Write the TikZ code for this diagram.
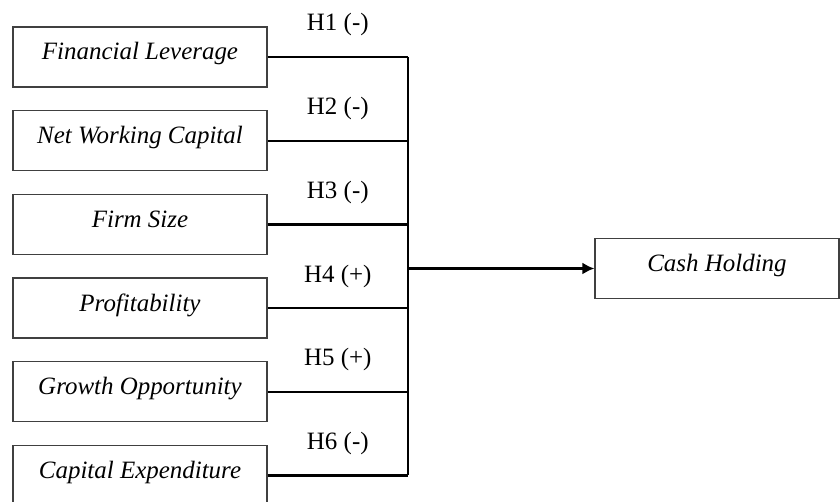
\documentclass[tikz,border=0pt]{standalone}
\usepackage{fontspec}
\setmainfont{Liberation Serif}
\usetikzlibrary{arrows.meta,positioning,calc}

\begin{document}
\begin{tikzpicture}[x=0.02cm,y=0.02cm,>={Latex[length=0.24cm,width=0.24cm]},font=\fontsize{14.2}{17}\selectfont]
\tikzstyle{var}=[draw=black!75,line width=0.7pt,inner sep=0pt,minimum width=5.08cm,text height=0.66cm,text depth=0.54cm,font=\fontsize{14.2}{17}\selectfont\itshape]
\tikzstyle{link}=[line width=1.3pt]
\tikzstyle{hyp}=[anchor=base,inner sep=0pt,yshift=0.52cm]
\path[use as bounding box,clip] (0,0) rectangle (840,-502);
\coordinate (bus) at (408,0);
\foreach \i/\name/\sign in {0/Financial Leverage/-,1/Net Working Capital/-,2/Firm Size/-,3/Profitability/+,4/Growth Opportunity/+,5/Capital Expenditure/-} {
 \node[var] (b\i) at (140,-57-\i*83.7) {\name};
 \pgfmathtruncatemacro{\h}{\i+1}
 \draw[link] (b\i.east) -- node[hyp] {H\h\ (\sign)} (b\i.east -| bus);
}
\draw[link] (b0.east -| bus) -- (b5.east -| bus);
\node[var,minimum width=4.88cm] (cash) at (717,-268.5) {Cash Holding};
\draw[link,->] (cash.west -| bus) -- (cash.west);
\end{tikzpicture}
\end{document}
